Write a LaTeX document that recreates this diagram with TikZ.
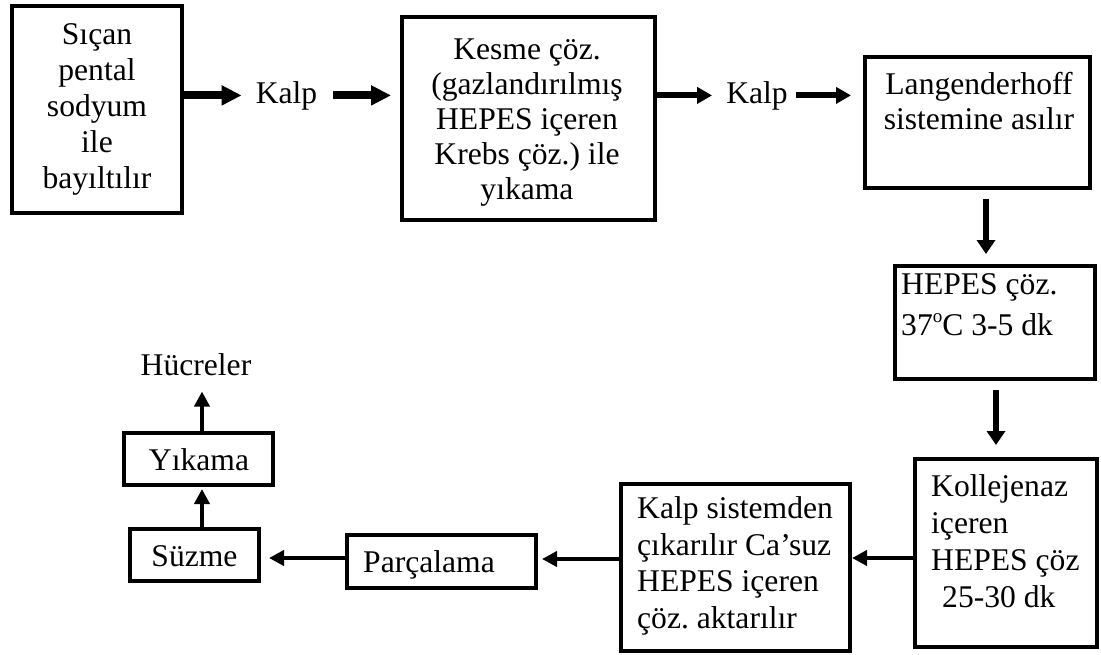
\documentclass[tikz,border=0pt]{standalone}
\usepackage{fontspec}
\setmainfont{Liberation Serif}
\usetikzlibrary{arrows.meta}
\frenchspacing
\newcommand\supo{\raisebox{13pt}{\fontsize{19pt}{19pt}\selectfont o}}
\tikzset{
  box/.style={draw, line width=4pt, inner sep=0pt, rectangle},
  txt/.style={inner sep=0pt, font=\fontsize{31.6pt}{36pt}\selectfont},
  mtxt/.style={inner sep=0pt, execute at begin node=\strut, execute at end node=\strut},
  arrA/.style={line width=8pt, -{Triangle[length=20pt,width=19pt]}},
  arrB/.style={line width=6pt, -{Triangle[length=15pt,width=16pt]}},
  arrV/.style={line width=6pt, -{Triangle[length=14pt,width=18pt]}},
  arrC/.style={line width=4.8pt, -{Triangle[length=15pt,width=15pt]}}
}
\begin{document}
\frenchspacing
\begin{tikzpicture}[x=1pt,y=-1pt]
\useasboundingbox (0,0) rectangle (1101,654);
% boxes
\node[box, minimum width=170pt, minimum height=207pt] (b1) at (97,109.5) {};
\node[box, minimum width=253pt, minimum height=203pt] (b2) at (528.5,118.5) {};
\node[box, minimum width=225pt, minimum height=131pt] (b3) at (977.5,122.5) {};
\node[box, minimum width=200pt, minimum height=113pt] (b4) at (995,322.5) {};
\node[box, minimum width=182pt, minimum height=188pt] (b5) at (1006,553) {};
\node[box, minimum width=229pt, minimum height=167pt] (b6) at (735.5,567.5) {};
\node[box, minimum width=189pt, minimum height=53pt] (b7) at (441.5,561.5) {};
\node[box, minimum width=129pt, minimum height=52pt] (b8) at (194.5,555) {};
\node[box, minimum width=149pt, minimum height=52pt] (b9) at (198.5,459) {};
% texts
\node[mtxt, font=\fontsize{31.6pt}{36pt}\selectfont, align=center, anchor=north] (t1) at (97,23.8)
  {Sıçan\\pental\\sodyum\\ile\\bayıltılır};
\node[mtxt, font=\fontsize{31.6pt}{35pt}\selectfont, align=center, anchor=north] (t2) at (527,38.5)
  {Kesme çöz.\\(gazlandırılmış\\HEPES içeren\\Krebs çöz.) ile\\yıkama};
\node[mtxt, font=\fontsize{31.6pt}{35pt}\selectfont, align=center, anchor=north] (t3) at (979,72.5)
  {Langenderhoff\\sistemine asılır};
\node[mtxt, font=\fontsize{31.6pt}{41pt}\selectfont, align=left, anchor=north west] (t4) at (901,273.3)
  {HEPES çöz.\\37\supo C 3-5 dk};
\node[mtxt, font=\fontsize{31.6pt}{37pt}\selectfont, align=left, anchor=north west] (t5) at (931,474.1)
  {Kollejenaz\\içeren\\HEPES çöz\\\hspace*{11pt}25-30 dk};
\node[mtxt, font=\fontsize{31.6pt}{36.7pt}\selectfont, align=left, anchor=north west] (t6) at (637,496.3)
  {Kalp sistemden\\çıkarılır Ca’suz\\HEPES içeren\\çöz. aktarılır};
\node[txt, anchor=base west] (t7) at (363,572) {Parçalama};
\node[txt, anchor=base] (t8) at (194.5,566) {Süzme};
\node[txt, anchor=base] (t9) at (199,470) {Yıkama};
\node[txt, anchor=base] (h) at (196,375) {Hücreler};
\node[txt, anchor=base] (k1) at (286.5,103) {Kalp};
\node[txt, anchor=base] (k2) at (757,103) {Kalp};
% connectors
\draw[arrA, shorten >=14pt] (b1.east |- k1.center) -- (k1.west);
\draw[arrA, shorten <=16pt, shorten >=9pt] (k1.east) -- (b2.west |- k1.center);
\draw[arrB, shorten >=14pt] (b2.east |- k2.center) -- (k2.west);
\draw[arrB, shorten <=8pt, shorten >=12pt] (k2.east) -- (b3.west |- k2.center);
\draw[arrV, shorten <=9pt, shorten >=10pt] ([xshift=8.5pt]b3.south) -- ([xshift=8.5pt]b3.south |- b4.north);
\draw[arrV, shorten <=9pt, shorten >=12pt] ([xshift=1pt]b4.south) -- ([xshift=1pt]b4.south |- b5.north);
\draw[arrC] ([yshift=-5pt]b5.west) -- ([yshift=-5pt]b5.west -| b6.east);
\draw[arrC, shorten >=4pt] ([yshift=2.5pt]b7.east -| b6.west) -- ([yshift=2.5pt]b7.east);
\draw[arrC, shorten >=8pt] ([yshift=-3pt]b8.east -| b7.west) -- ([yshift=-3pt]b8.east);
\draw[arrC, shorten >=2pt] ([xshift=7.5pt]b8.north) -- ([xshift=7.5pt]b8.north |- b9.south);
\draw[arrC, shorten >=16pt] ([xshift=3.5pt]b9.north) -- ([xshift=3.5pt]b9.north |- h.south);
\end{tikzpicture}
\end{document}
